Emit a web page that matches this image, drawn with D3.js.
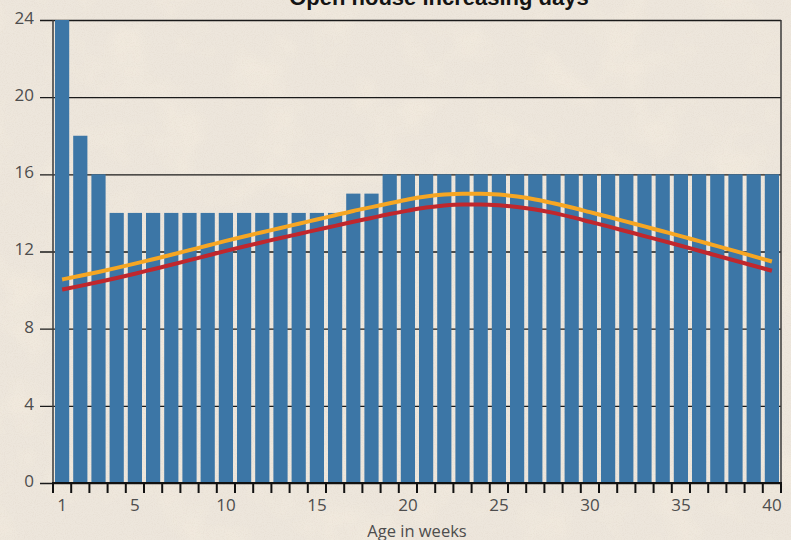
<!DOCTYPE html>
<html>
<head>
<meta charset="utf-8">
<script src="https://cdn.jsdelivr.net/npm/d3@7"></script>
<style>
  html, body { margin: 0; padding: 0; background: #ece5da; }
  svg { display: block; }
</style>
</head>
<body>
<svg id="chart" width="791" height="540"></svg>
<script>
// Weeks of age 1..40
const weeks = d3.range(1, 41);

// Open house days per week (bars)
const openDays = [24, 18, 16, 14, 14, 14, 14, 14, 14, 14,
                  14, 14, 14, 14, 14, 14, 15, 15, 16, 16,
                  16, 16, 16, 16, 16, 16, 16, 16, 16, 16,
                  16, 16, 16, 16, 16, 16, 16, 16, 16, 16];

// Upper trend line (orange)
const upperTrend = [10.55, 10.74, 10.94, 11.15, 11.37, 11.60, 11.83, 12.07, 12.31, 12.55,
                    12.78, 13.00, 13.22, 13.44, 13.66, 13.88, 14.10, 14.30, 14.50, 14.70,
                    14.85, 14.95, 15.00, 15.00, 14.95, 14.85, 14.70, 14.50, 14.28, 14.04,
                    13.80, 13.55, 13.30, 13.05, 12.80, 12.54, 12.28, 12.02, 11.75, 11.48];

// Lower trend line (red)
const lowerTrend = [10.03, 10.22, 10.42, 10.63, 10.85, 11.08, 11.31, 11.55, 11.79, 12.03,
                    12.26, 12.48, 12.70, 12.91, 13.12, 13.33, 13.54, 13.74, 13.94, 14.12,
                    14.28, 14.39, 14.44, 14.44, 14.40, 14.31, 14.18, 14.00, 13.78, 13.54,
                    13.30, 13.05, 12.80, 12.55, 12.30, 12.04, 11.78, 11.52, 11.26, 11.00];

const yTicks = [0, 4, 8, 12, 16, 20, 24];
const xTickLabels = [1, 5, 10, 15, 20, 25, 30, 35, 40];

const title = "Open house increasing days";
const xTitle = "Age in weeks";

const svg = d3.select("#chart");
const W = 791, H = 540;
const plotL = 53, plotR = 781, plotT = 20, plotB = 483;

// Paper background with subtle grain
const defs = svg.append("defs");
const grain = defs.append("filter").attr("id", "grain").attr("x", 0).attr("y", 0).attr("width", "100%").attr("height", "100%");
grain.append("feTurbulence").attr("type", "fractalNoise").attr("baseFrequency", 0.9).attr("numOctaves", 2).attr("seed", 7).attr("result", "n");
grain.append("feColorMatrix").attr("type", "matrix")
  .attr("values", "0 0 0 0 0.55  0 0 0 0 0.45  0 0 0 0 0.35  0 0 0 -1.6 0.9");
const blotch = defs.append("filter").attr("id", "blotch").attr("x", 0).attr("y", 0).attr("width", "100%").attr("height", "100%");
blotch.append("feTurbulence").attr("type", "fractalNoise").attr("baseFrequency", 0.02).attr("numOctaves", 3).attr("seed", 3);
blotch.append("feColorMatrix").attr("type", "matrix")
  .attr("values", "0 0 0 0 0.93  0 0 0 0 0.86  0 0 0 0 0.74  0 0 0 -2 1.1");

svg.append("rect").attr("width", W).attr("height", H).attr("fill", "#ede6dc");
svg.append("rect").attr("width", W).attr("height", H).attr("filter", "url(#blotch)").attr("opacity", 0.5);
svg.append("rect").attr("width", W).attr("height", H).attr("filter", "url(#grain)").attr("opacity", 0.18);

// Scales
const x = d3.scaleBand().domain(weeks).range([plotL, plotR]).paddingInner(0.22).paddingOuter(0.11);
const y = d3.scaleLinear().domain([0, 24]).range([plotB, plotT]);

// Horizontal gridlines behind the bars, with ticks poking out to the left
const yAxis = d3.axisLeft(y).tickValues(yTicks).tickSize(-(plotR - plotL)).tickSizeOuter(0).tickPadding(0).tickFormat("");
const gy = svg.append("g").attr("transform", `translate(${plotL},0)`).call(yAxis);
gy.select(".domain").remove();
gy.selectAll(".tick line").attr("stroke", "#1a1a1a").attr("stroke-width", 1.3).attr("x1", -13);

gy.selectAll(".tick").append("text")
  .attr("x", -19).attr("dy", "0.2em")
  .attr("text-anchor", "end")
  .attr("fill", "#4d4d4d")
  .attr("font-family", "'Open Sans', sans-serif")
  .attr("font-size", 17)
  .text(d => d);

// Bars
svg.append("g").selectAll("rect").data(weeks).join("rect")
  .attr("x", d => x(d))
  .attr("y", (d, i) => y(openDays[i]))
  .attr("width", x.bandwidth())
  .attr("height", (d, i) => y(0) - y(openDays[i]))
  .attr("fill", "#3c76a6");

// Trend lines
const line = d3.line()
  .x((d, i) => x(weeks[i]) + x.bandwidth() / 2)
  .y(d => y(d))
  .curve(d3.curveMonotoneX);

svg.append("path").datum(lowerTrend).attr("d", line)
  .attr("fill", "none").attr("stroke", "#c0272d").attr("stroke-width", 4).attr("stroke-linecap", "butt");
svg.append("path").datum(upperTrend).attr("d", line)
  .attr("fill", "none").attr("stroke", "#f6a623").attr("stroke-width", 4).attr("stroke-linecap", "butt");

// Frame: left axis line and right border
svg.append("line").attr("x1", plotL).attr("x2", plotL).attr("y1", plotT).attr("y2", plotB)
  .attr("stroke", "#3a3a3a").attr("stroke-width", 1.5);
svg.append("line").attr("x1", plotR).attr("x2", plotR).attr("y1", plotT).attr("y2", plotB)
  .attr("stroke", "#3a3a3a").attr("stroke-width", 1.5);

// Bottom axis: ticks at every week boundary
const boundaries = d3.range(0, 41).map(i => plotL + (plotR - plotL) * i / 40);
svg.append("line").attr("x1", plotL - 1).attr("x2", plotR + 1).attr("y1", plotB).attr("y2", plotB)
  .attr("stroke", "#111").attr("stroke-width", 2);
svg.append("g").selectAll("line").data(boundaries).join("line")
  .attr("x1", d => d).attr("x2", d => d)
  .attr("y1", plotB).attr("y2", plotB + 10)
  .attr("stroke", "#111").attr("stroke-width", 2);

svg.append("g").selectAll("text").data(xTickLabels).join("text")
  .attr("x", d => x(d) + x.bandwidth() / 2)
  .attr("y", 511)
  .attr("text-anchor", "middle")
  .attr("fill", "#4d4d4d")
  .attr("font-family", "'Open Sans', sans-serif")
  .attr("font-size", 17)
  .text(d => d);

// Axis title
svg.append("text")
  .attr("x", (plotL + plotR) / 2).attr("y", 537)
  .attr("text-anchor", "middle")
  .attr("fill", "#4d4d4d")
  .attr("font-family", "'Open Sans', sans-serif")
  .attr("font-size", 16.5)
  .text(xTitle);

// Chart title
svg.append("text")
  .attr("x", 439).attr("y", 5)
  .attr("text-anchor", "middle")
  .attr("fill", "#141414")
  .attr("font-family", "'Liberation Sans', Arial, sans-serif")
  .attr("font-weight", "bold")
  .attr("font-size", 22)
  .text(title);
</script>
</body>
</html>
